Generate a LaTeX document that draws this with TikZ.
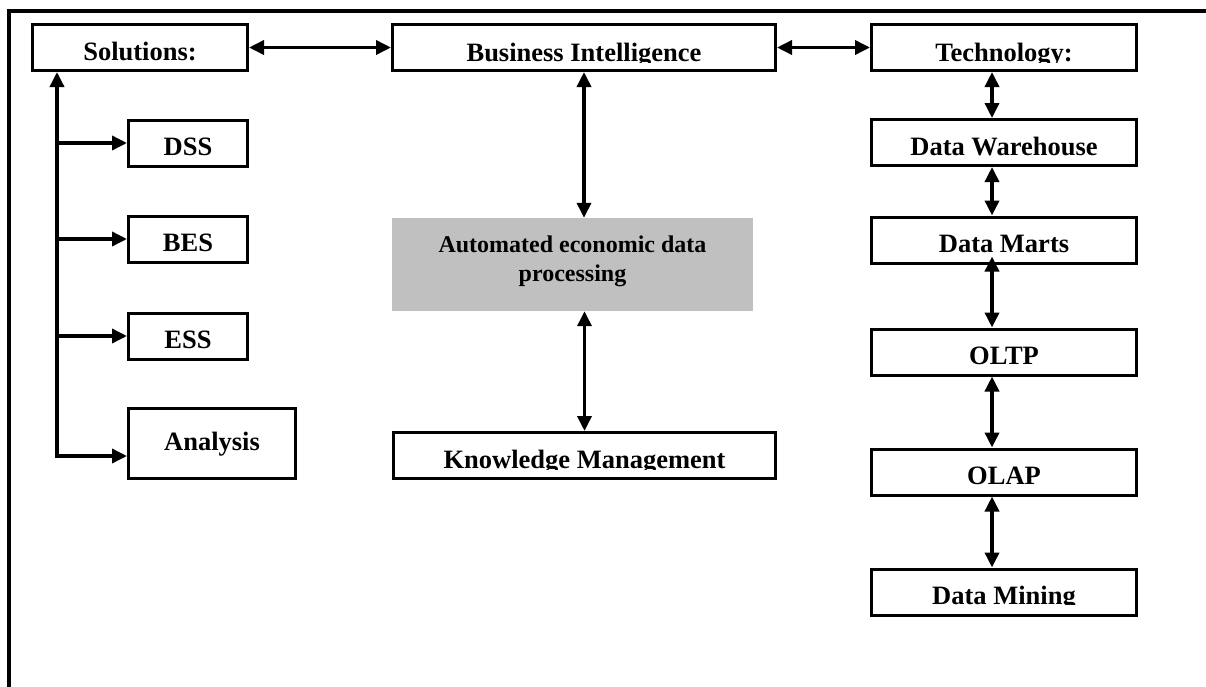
\documentclass[tikz,border=0pt]{standalone}
\usepackage{fontspec}
\setmainfont{Liberation Serif}
\usetikzlibrary{arrows.meta}
\definecolor{boxgray}{RGB}{192,192,192}
\begin{document}
\begin{tikzpicture}[x=1pt,y=-1pt,
  >={Triangle[length=15pt,width=14pt]},
  box/.style={draw, line width=3pt, minimum width=#1, minimum height=46pt,
    inner sep=0pt, font=\bfseries\fontsize{26.5}{30}\selectfont,
    text height=25pt, text depth=0pt},
  lbl/.style={inner sep=0pt, font=\bfseries\fontsize{26.5}{30}\selectfont,
    text height=25pt, text depth=0pt},
  arr/.style={line width=3.5pt},
  frame/.style={line width=3.5pt}
]
\useasboundingbox (0,0) rectangle (1206,686);
\draw[frame] (1210,11) -- (9,11) -- (9,690);

% top row
\node[box=215pt] (sol) at (140,47.5) {Solutions:};
\node[box=383pt] (bi) at (584,47.5) {};
\node[box=265pt] (tech) at (1004,47.5) {};

% left column
\node[box=119pt] (dss) at (188,143) {DSS};
\node[box=119pt] (bes) at (188,239) {BES};
\node[box=119pt] (ess) at (188,336) {ESS};
\node[box=167pt, minimum height=70pt, text height=14pt] (ana) at (212,443.5) {Analysis};

% centre column
\node[fill=boxgray, minimum width=361pt, minimum height=93pt, inner sep=0pt] (aedp) at (572.5,264.5) {};
\node[font=\bfseries\fontsize{24}{29}\selectfont, align=center, anchor=north, inner sep=0pt]
  (aedpt) at ([yshift=-17.5pt]aedp.north) {Automated economic data\\processing};
\node[box=382pt] (km) at (584.5,455.5) {};

% right column
\node[box=265pt] (dw) at (1004,142.5) {Data Warehouse};
\node[box=265pt] (dm) at (1004,240) {Data Marts};
\node[box=265pt] (oltp) at (1004,352) {OLTP};
\node[box=265pt] (olap) at (1004,472) {OLAP};
\node[box=265pt] (mine) at (1004,592) {};

% clipped labels
\begin{scope}
\clip ([yshift=-14.5pt]bi.west) rectangle (bi.north east);
\node[lbl] (bit) at ([yshift=-1pt]bi.center) {Business Intelligence};
\end{scope}
\begin{scope}
\clip ([yshift=-14.5pt]tech.west) rectangle (tech.north east);
\node[lbl] (techt) at ([yshift=-1pt]tech.center) {Technology:};
\end{scope}
\begin{scope}
\clip ([yshift=-13.5pt]km.west) rectangle (km.north east);
\node[lbl] (kmt) at ([yshift=-0.5pt]km.center) {Knowledge Management};
\end{scope}
\begin{scope}
\clip ([yshift=-12.5pt]mine.west) rectangle (mine.north east);
\node[lbl] (minet) at ([yshift=0pt]mine.center) {Data Mining};
\end{scope}

% top arrows
\draw[arr,<->] (sol.east) -- (bi.west);
\draw[arr,<->] (bi.east) -- (tech.west);

% left trunk
\coordinate (trunk) at (57,456);
\draw[arr,<->] (trunk |- sol.south) -- (trunk) -- (trunk -| ana.west);
\draw[arr,->] (trunk |- dss.west) -- (dss.west);
\draw[arr,->] (trunk |- bes.west) -- (bes.west);
\draw[arr,->] (trunk |- ess.west) -- (ess.west);

% centre arrows
\draw[arr,<->] (bi.south) -- (bi.south |- aedp.north);
\draw[arr,<->] (km.north |- aedp.south) -- (km.north);

% right arrows
\draw[arr,<->] ([xshift=-12pt]tech.south) -- ([xshift=-12pt]dw.north);
\draw[arr,<->] ([xshift=-12pt]dw.south) -- ([xshift=-12pt]dm.north);
\draw[arr,<->] ([xshift=-12pt,yshift=8pt]dm.south) -- ([xshift=-12pt]oltp.north);
\draw[arr,<->] ([xshift=-12pt]oltp.south) -- ([xshift=-12pt]olap.north);
\draw[arr,<->] ([xshift=-12pt]olap.south) -- ([xshift=-12pt]mine.north);
\end{tikzpicture}
\end{document}
